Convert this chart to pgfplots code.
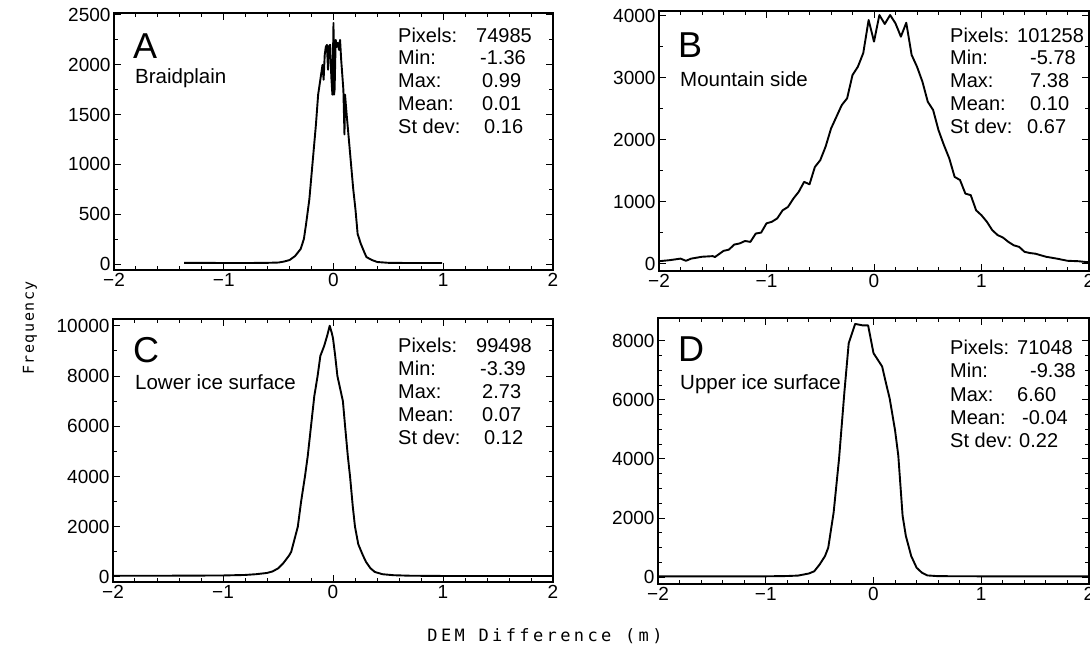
\documentclass[border=0pt]{standalone}
\usepackage{fontspec}
\setmainfont{Liberation Sans}
\newfontfamily\labfont[LetterSpace=20]{DejaVu Sans Mono}
\newfontfamily\freqfont[LetterSpace=10]{DejaVu Sans Mono}
\usepackage{pgfplots}
\pgfplotsset{compat=1.18}

\pgfplotsset{
 hist/.style={
  scale only axis,
  anchor=south west,
  xmin=-2, xmax=2,
  xtick={-2,-1,0,1,2},
  xticklabels={−2,−1,0,1,2},
  minor x tick num=4,
  axis line style={line width=1.5pt},
  every tick/.style={line width=1pt, black},
  major tick length=7pt,
  minor tick length=4pt,
  scaled y ticks=false,
  yticklabel style={/pgf/number format/1000 sep={}},
  /pgf/number format/assume math mode=true,
  tick label style={font=\fontsize{19}{19}\selectfont},
 },
 curve/.style={black, line width=1.9pt, no marks, line join=round},
}

\begin{document}
\begin{tikzpicture}

% ---------------- A
\begin{axis}[hist, at={(114pt,386pt)}, width=439pt, height=257pt,
  ymin=-60, ymax=2520, ytick={0,500,...,2500}, minor y tick num=1]
\addplot[curve] coordinates {
(-1.36,12) (-1.2,12) (-1.0,10) (-0.8,10) (-0.6,12) (-0.5,15) (-0.45,25) (-0.4,40) (-0.35,80)
(-0.3,150) (-0.27,250) (-0.25,400) (-0.22,650) (-0.2,900) (-0.18,1150) (-0.16,1400)
(-0.14,1700) (-0.12,1850) (-0.1,2000) (-0.09,1850) (-0.08,2100) (-0.07,2180) (-0.06,2200)
(-0.05,1950) (-0.04,2190) (-0.03,2200) (-0.02,1880) (-0.01,1700) (0.0,2420) (0.005,1700)
(0.01,1750) (0.02,2250) (0.03,2180) (0.04,2220) (0.05,2150) (0.06,2250) (0.07,2050)
(0.08,1900) (0.09,1750) (0.1,1300) (0.105,1700) (0.12,1500) (0.14,1250) (0.16,1000)
(0.18,750) (0.2,550) (0.22,300) (0.25,200) (0.28,120) (0.3,70) (0.35,40) (0.4,20)
(0.5,12) (0.7,10) (0.99,10)
};
\end{axis}

% ---------------- B
\begin{axis}[hist, at={(659pt,385pt)}, width=430pt, height=260pt,
  ymin=-120, ymax=4080, ytick={0,1000,...,4000}, minor y tick num=1]
\addplot[curve] coordinates {
(-2,38) (-1.9,55) (-1.8,80) (-1.75,45) (-1.7,80) (-1.6,110) (-1.5,120) (-1.48,105)
(-1.4,205) (-1.35,225) (-1.3,307) (-1.25,325) (-1.2,365) (-1.15,350) (-1.1,485)
(-1.05,500) (-1.0,650) (-0.95,675) (-0.9,730) (-0.85,860) (-0.8,915) (-0.75,1050)
(-0.7,1160) (-0.65,1320) (-0.6,1280) (-0.55,1560) (-0.5,1670) (-0.45,1890) (-0.4,2180)
(-0.35,2370) (-0.3,2560) (-0.25,2670) (-0.2,3045) (-0.15,3180) (-0.1,3400) (-0.05,3935)
(0.0,3585) (0.05,4015) (0.1,3870) (0.15,4015) (0.2,3880) (0.25,3665) (0.3,3890)
(0.35,3370) (0.4,3180) (0.45,2940) (0.5,2615) (0.55,2480) (0.6,2155) (0.65,1915)
(0.7,1700) (0.75,1400) (0.8,1350) (0.85,1130) (0.9,1105) (0.95,860) (1.0,780)
(1.05,675) (1.1,540) (1.15,460) (1.2,420) (1.25,350) (1.3,295) (1.35,270) (1.4,190)
(1.45,170) (1.5,160) (1.6,110) (1.7,80) (1.8,45) (1.9,38) (2.0,20)
};
\end{axis}

% ---------------- C
\begin{axis}[hist, at={(113pt,74pt)}, width=440pt, height=263pt,
  ymin=-200, ymax=10270, ytick={0,2000,...,10000}, minor y tick num=1]
\addplot[curve] coordinates {
(-2,50) (-1.5,50) (-1.0,60) (-0.8,80) (-0.7,110) (-0.6,160) (-0.55,220) (-0.5,340)
(-0.45,560) (-0.4,850) (-0.38,1000) (-0.35,1500) (-0.32,2000) (-0.29,3000)
(-0.255,4000) (-0.23,4800) (-0.2,6000) (-0.17,7200) (-0.14,8000) (-0.115,8800)
(-0.08,9200) (-0.05,9650) (-0.03,10000) (-0.01,9700) (0.0,9500) (0.02,8800)
(0.04,8000) (0.07,7400) (0.09,7000) (0.11,6000) (0.135,4800) (0.155,4000) (0.18,2800)
(0.2,2000) (0.23,1300) (0.27,880) (0.3,600) (0.34,350) (0.38,200) (0.45,110)
(0.55,70) (0.7,50) (1.0,40) (1.5,40) (2.0,40)
};
\end{axis}

% ---------------- D
\begin{axis}[hist, at={(658pt,72pt)}, width=431pt, height=266pt,
  ymin=-230, ymax=8770, ytick={0,2000,...,8000}, minor y tick num=3]
\addplot[curve] coordinates {
(-2,30) (-1.5,30) (-1.0,30) (-0.8,40) (-0.7,55) (-0.6,125) (-0.55,200) (-0.5,430)
(-0.45,715) (-0.42,1000) (-0.37,2190) (-0.32,4000) (-0.27,6270) (-0.23,7920)
(-0.17,8570) (-0.1,8520) (-0.05,8520) (0.0,7580) (0.05,7300) (0.08,7130) (0.12,6500)
(0.15,6050) (0.2,4970) (0.23,4120) (0.27,2080) (0.3,1400) (0.35,715) (0.4,320)
(0.45,150) (0.5,60) (0.6,35) (1.0,30) (1.5,30) (2.0,30)
};
\end{axis}

% ---------------- panel texts
\begin{scope}[x=1pt,y=1pt,every node/.style={inner sep=0pt, anchor=base west}]
\node[font=\fontsize{36}{36}\selectfont] at (133,597) {A};
\node[font=\fontsize{20.5}{20.5}\selectfont] at (135,572) {Braidplain};
\node[font=\fontsize{36}{36}\selectfont] at (678,598) {B};
\node[font=\fontsize{20.5}{20.5}\selectfont] at (680,569) {Mountain side};
\node[font=\fontsize{36}{36}\selectfont] at (133,293) {C};
\node[font=\fontsize{20.5}{20.5}\selectfont] at (135,266) {Lower ice surface};
\node[font=\fontsize{36}{36}\selectfont] at (678,294) {D};
\node[font=\fontsize{20.5}{20.5}\selectfont] at (680,266) {Upper ice surface};

\begin{scope}[every node/.append style={font=\fontsize{20}{20}\selectfont}]
% A stats
\node at (398,613) {Pixels:}; \node at (476,613) {74985};
\node at (398,591) {Min:};    \node at (480,591) {-1.36};
\node at (398,568) {Max:};    \node at (482,568) {0.99};
\node at (398,545) {Mean:};   \node at (482,545) {0.01};
\node at (398,522) {St dev:}; \node at (484,522) {0.16};
% B stats
\node at (950,613) {Pixels:}; \node at (1017,613) {101258};
\node at (950,591) {Min:};    \node at (1030,591) {-5.78};
\node at (950,568) {Max:};    \node at (1030,568) {7.38};
\node at (950,545) {Mean:};   \node at (1030,545) {0.10};
\node at (950,522) {St dev:}; \node at (1027,522) {0.67};
% C stats
\node at (398,303) {Pixels:}; \node at (476,303) {99498};
\node at (398,280) {Min:};    \node at (480,280) {-3.39};
\node at (398,257) {Max:};    \node at (482,257) {2.73};
\node at (398,234) {Mean:};   \node at (482,234) {0.07};
\node at (398,211) {St dev:}; \node at (484,211) {0.12};
% D stats
\node at (950,301) {Pixels:}; \node at (1017,301) {71048};
\node at (950,278) {Min:};    \node at (1030,278) {-9.38};
\node at (950,254) {Max:};    \node at (1017,254) {6.60};
\node at (950,231) {Mean:};   \node at (1022,231) {-0.04};
\node at (950,208) {St dev:}; \node at (1019,208) {0.22};
\end{scope}

\node[anchor=center, rotate=90, font=\freqfont\fontsize{15}{15}\selectfont] at (30,328) {Frequency};
\node[anchor=center, font=\labfont\fontsize{17}{17}\selectfont] at (545,20) {DEM Difference (m)};
\end{scope}
\pgfresetboundingbox
\path[use as bounding box] (0pt,0pt) rectangle (1090pt,656pt);
\end{tikzpicture}
\end{document}
